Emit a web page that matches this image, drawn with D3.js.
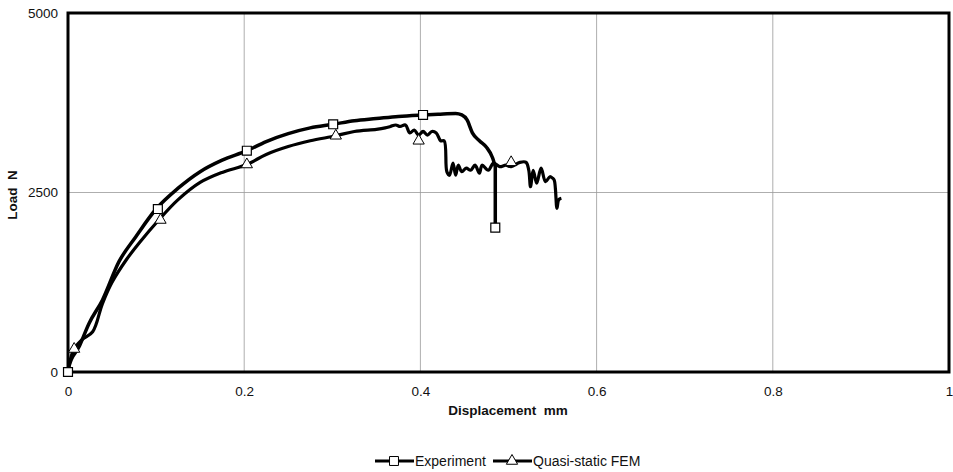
<!DOCTYPE html>
<html><head><meta charset="utf-8">
<script src="https://cdn.jsdelivr.net/npm/d3@7"></script>
<style>body{margin:0;background:#fff;} svg{display:block;font-family:"Liberation Sans",Arial,sans-serif;}</style>
</head><body>
<svg id="c" width="953" height="472"></svg>
<script>
// Experiment curve (displacement mm, load N)
const expX = [0, 0.001, 0.0125, 0.024, 0.039, 0.058, 0.077, 0.1, 0.125, 0.15, 0.175, 0.203, 0.225, 0.25, 0.275, 0.301, 0.325, 0.35, 0.375, 0.403, 0.42, 0.44, 0.447, 0.453, 0.459, 0.467, 0.475, 0.482, 0.485, 0.485];
const expY = [0, 75, 350, 680, 1000, 1540, 1885, 2270, 2560, 2790, 2950, 3082, 3210, 3320, 3400, 3450, 3500, 3530, 3560, 3580, 3590, 3600, 3580, 3510, 3330, 3220, 3130, 2980, 2860, 2010];
const expMarkX = [0, 0.102, 0.203, 0.301, 0.403, 0.485];
const expMarkY = [0, 2270, 3082, 3450, 3580, 2010];

// Quasi-static FEM curve
const femX = [0, 0.006, 0.016, 0.028, 0.039, 0.05, 0.066, 0.081, 0.103, 0.125, 0.15, 0.175, 0.203, 0.225, 0.25, 0.275, 0.304, 0.325, 0.35, 0.36, 0.366, 0.372, 0.377, 0.383, 0.388, 0.393, 0.398, 0.403, 0.408, 0.413, 0.418, 0.423, 0.427, 0.430, 0.433, 0.437, 0.440, 0.443, 0.447, 0.452, 0.457, 0.462, 0.467, 0.470, 0.477, 0.483, 0.490, 0.497, 0.503, 0.513, 0.520, 0.523, 0.525, 0.528, 0.532, 0.537, 0.542, 0.547, 0.550, 0.552, 0.555, 0.557, 0.560];
const femY = [0, 300, 450, 560, 950, 1250, 1560, 1800, 2117, 2400, 2640, 2780, 2890, 3030, 3140, 3220, 3290, 3350, 3380, 3400, 3420, 3440, 3420, 3440, 3330, 3370, 3300, 3350, 3300, 3350, 3330, 3220, 3220, 2790, 2740, 2910, 2740, 2880, 2790, 2840, 2810, 2880, 2770, 2880, 2810, 2910, 2860, 2880, 2860, 2920, 2920, 2810, 2580, 2810, 2630, 2840, 2650, 2720, 2700, 2670, 2280, 2400, 2420];
const femMarkX = [0.007, 0.105, 0.203, 0.304, 0.398, 0.503];
const femMarkY = [320, 2117, 2890, 3290, 3220, 2920];

const xTicks = [0, 0.2, 0.4, 0.6, 0.8, 1];
const xTickLabels = ["0", "0.2", "0.4", "0.6", "0.8", "1"];
const yTicks = [0, 2500, 5000];
const yTickLabels = ["0", "2500", "5000"];
const seriesNames = ["Experiment", "Quasi-static FEM"];

const FONT = "Liberation Sans, Arial, sans-serif";
const svg = d3.select("#c");
const L = 68, R = 949, T = 13, B = 372;
const x = d3.scaleLinear().domain([0, 1]).range([L, R]);
const y = d3.scaleLinear().domain([0, 5000]).range([B, T]);

// gridlines
svg.append("g").selectAll("line").data(xTicks.slice(1, -1)).join("line")
  .attr("x1", d => x(d)).attr("x2", d => x(d)).attr("y1", T).attr("y2", B)
  .attr("stroke", "#999").attr("stroke-width", 0.8);
svg.append("g").selectAll("line").data(yTicks.slice(1, -1)).join("line")
  .attr("x1", L).attr("x2", R).attr("y1", d => y(d)).attr("y2", d => y(d))
  .attr("stroke", "#999").attr("stroke-width", 0.8);

// frame
svg.append("rect").attr("x", L).attr("y", T).attr("width", R - L).attr("height", B - T)
  .attr("fill", "none").attr("stroke", "#000").attr("stroke-width", 3);

// axes (labels only)
const xAxis = d3.axisBottom(x).tickValues(xTicks).tickFormat((d, i) => xTickLabels[i]).tickSize(0).tickPadding(14);
const gx = svg.append("g").attr("transform", `translate(0,${B})`).call(xAxis);
gx.select(".domain").remove();
gx.selectAll("text").attr("font-size", 13.5).attr("font-family", FONT).attr("fill", "#111");

const yAxis = d3.axisLeft(y).tickValues(yTicks).tickFormat((d, i) => yTickLabels[i]).tickSize(0).tickPadding(10);
const gy = svg.append("g").attr("transform", `translate(${L},0)`).call(yAxis);
gy.select(".domain").remove();
gy.selectAll("text").attr("font-size", 13.5).attr("font-family", FONT).attr("fill", "#111");

// axis titles
svg.append("text").attr("x", 508).attr("y", 415).attr("text-anchor", "middle").attr("font-family", FONT)
  .attr("font-size", 13.5).attr("font-weight", "bold").attr("fill", "#111").attr("xml:space", "preserve")
  .text("Displacement  mm");
svg.append("text").attr("transform", "translate(17,195) rotate(-90)").attr("text-anchor", "middle").attr("font-family", FONT)
  .attr("font-size", 13.5).attr("font-weight", "bold").attr("fill", "#111").attr("xml:space", "preserve")
  .text("Load  N");

const expData = expX.map((v, i) => [v, expY[i]]);
const femData = femX.map((v, i) => [v, femY[i]]);

const femLine = d3.line().x(d => x(d[0])).y(d => y(d[1])).curve(d3.curveCatmullRom.alpha(0.5));
svg.append("path").datum(femData).attr("d", femLine)
  .attr("fill", "none").attr("stroke", "#000").attr("stroke-width", 3.2).attr("stroke-linejoin", "round");

const expLine = d3.line().x(d => x(d[0])).y(d => y(d[1])).curve(d3.curveMonotoneX);
const expLast = expData[expData.length - 1];
svg.append("path").attr("d", expLine(expData.slice(0, -1)) + "L" + x(expLast[0]) + "," + y(expLast[1]))
  .attr("fill", "none").attr("stroke", "#000").attr("stroke-width", 3.5).attr("stroke-linejoin", "round");

const sq = d3.symbol().type(d3.symbolSquare).size(80);
const tri = d3.symbol().type(d3.symbolTriangle).size(55);

svg.append("g").selectAll("path").data(femMarkX.map((v, i) => [v, femMarkY[i]])).join("path")
  .attr("d", tri).attr("transform", d => `translate(${x(d[0])},${y(d[1])})`)
  .attr("fill", "#fff").attr("stroke", "#000").attr("stroke-width", 1);
svg.append("g").selectAll("path").data(expMarkX.map((v, i) => [v, expMarkY[i]])).join("path")
  .attr("d", sq).attr("transform", d => `translate(${x(d[0])},${y(d[1])})`)
  .attr("fill", "#fff").attr("stroke", "#000").attr("stroke-width", 1.2);

// legend
const lg = svg.append("g").attr("font-size", 14).attr("font-family", FONT).attr("fill", "#111");
const legendItems = [
  { name: seriesNames[0], x0: 375, sym: sq },
  { name: seriesNames[1], x0: 493, sym: tri }
];
legendItems.forEach(it => {
  lg.append("line").attr("x1", it.x0).attr("x2", it.x0 + 39).attr("y1", 461).attr("y2", 461)
    .attr("stroke", "#000").attr("stroke-width", 3);
  lg.append("path").attr("d", it.sym).attr("transform", `translate(${it.x0 + 19},461)`)
    .attr("fill", "#fff").attr("stroke", "#000").attr("stroke-width", 1);
  lg.append("text").attr("x", it.x0 + 40).attr("y", 466).text(it.name);
});
</script>
</body></html>
